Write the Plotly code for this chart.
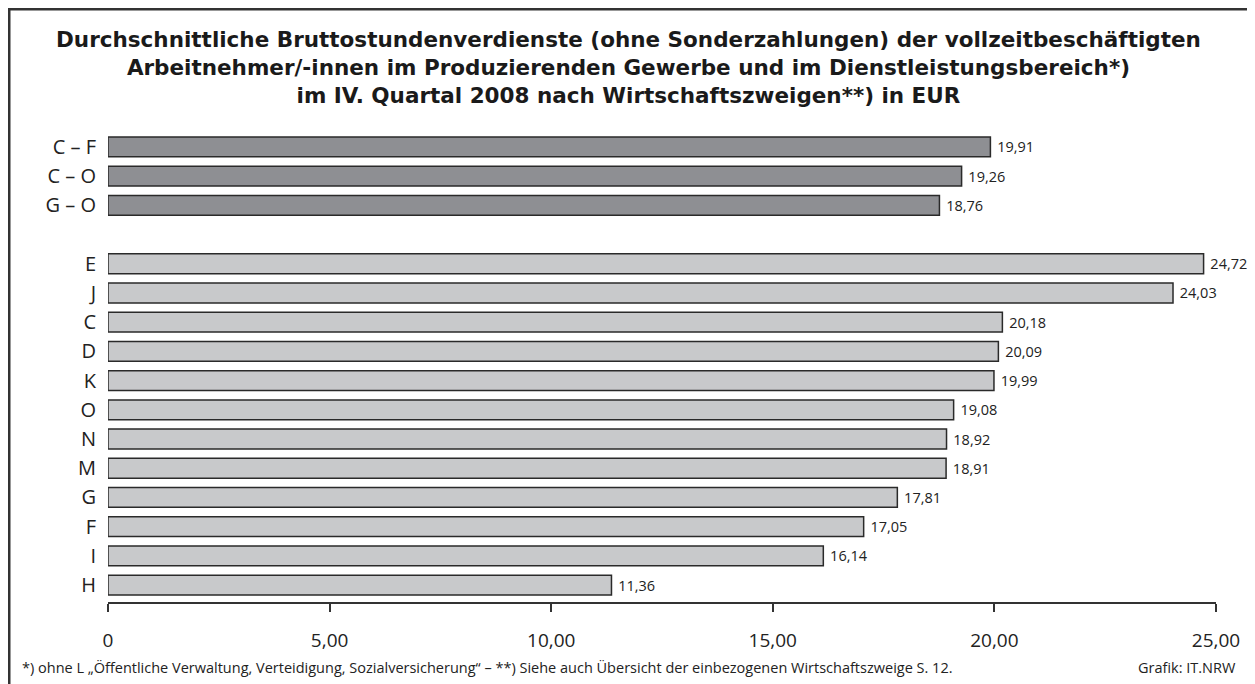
import plotly.graph_objects as go

# Data
total_labels = ["C – F", "C – O", "G – O"]
total_values = [19.91, 19.26, 18.76]
sector_labels = ["E", "J", "C", "D", "K", "O", "N", "M", "G", "F", "I", "H"]
sector_values = [24.72, 24.03, 20.18, 20.09, 19.99, 19.08, 18.92, 18.91, 17.81, 17.05, 16.14, 11.36]
spacer = " "
tick_vals = [0, 5, 10, 15, 20, 25]
tick_text = ["0", "5,00", "10,00", "15,00", "20,00", "25,00"]

title_lines = [
    "Durchschnittliche Bruttostundenverdienste (ohne Sonderzahlungen) der vollzeitbeschäftigten",
    "Arbeitnehmer/-innen im Produzierenden Gewerbe und im Dienstleistungsbereich*)",
    "im IV. Quartal 2008 nach Wirtschaftszweigen**) in EUR",
]
footnote = ("*) ohne L „Öffentliche Verwaltung, Verteidigung, Sozialversicherung“ – "
            "**) Siehe auch Übersicht der einbezogenen Wirtschaftszweige S. 12.")
source = "Grafik: IT.NRW"

FONT = "Open Sans, Noto Sans, sans-serif"
TITLE_FONT = "DejaVu Sans, Open Sans, sans-serif"
OFF = 8  # page body margin offset
W, H = 1255 - OFF, 684 - OFF
ML, MR, MT = 108 - OFF, 39, 130 - OFF
MB = H - (602 - OFF)

cat_order = total_labels + [spacer] + sector_labels
plot_h = H - MT - MB
plot_w = W - ML - MR


def px(x):  # page x -> paper x
    return (x - OFF - ML) / plot_w


def py(y):  # page y -> paper y
    return (H - MB - (y - OFF)) / plot_h


def fmt(v):
    return "\u00a0" + f"{v:.2f}".replace(".", ",")


fig = go.Figure()
fig.add_trace(go.Bar(
    y=total_labels + [spacer], x=total_values + [None], orientation="h",
    marker=dict(color="#8e8f93", line=dict(color="#2a2a2a", width=1.5)),
    width=0.68, text=[fmt(v) for v in total_values] + [""],
    textposition="outside", textfont=dict(size=14.5, color="#222", family=FONT),
    cliponaxis=False, showlegend=False, hoverinfo="x+y",
))
fig.add_trace(go.Bar(
    y=sector_labels, x=sector_values, orientation="h",
    marker=dict(color="#c8c9cb", line=dict(color="#2a2a2a", width=1.5)),
    width=0.68, text=[fmt(v) for v in sector_values],
    textposition="outside", textfont=dict(size=14.5, color="#222", family=FONT),
    cliponaxis=False, showlegend=False, hoverinfo="x+y",
))

annotations = [
    dict(text="<br>".join(title_lines), xref="paper", yref="paper", x=px(628), y=py(67),
         xanchor="center", yanchor="middle", align="center", showarrow=False,
         font=dict(size=21.5, color="#1a1a1a", family=TITLE_FONT, weight="bold")),
    dict(text=footnote, xref="paper", yref="paper",
         x=px(20), y=py(667), xanchor="left", yanchor="middle",
         showarrow=False, font=dict(size=14.5, color="#222", family=FONT)),
    dict(text=source, xref="paper", yref="paper",
         x=px(1238), y=py(667), xanchor="right", yanchor="middle",
         showarrow=False, font=dict(size=14.5, color="#222", family=FONT)),
]

n = len(cat_order)
fig.update_layout(
    width=W, height=H,
    margin=dict(l=ML, r=MR, t=MT, b=MB, autoexpand=False),
    paper_bgcolor="white", plot_bgcolor="white",
    font=dict(family=FONT, color="#222"),
    barmode="overlay",
    xaxis=dict(range=[0, 25], tickvals=tick_vals, ticktext=tick_text,
               showgrid=False, zeroline=False, showline=True, linecolor="#333", linewidth=2,
               ticks="outside", ticklen=8, tickwidth=2, tickcolor="#333",
               ticklabelstandoff=12,
               tickfont=dict(size=19, color="#222", family=FONT), fixedrange=True),
    yaxis=dict(type="category", categoryorder="array", categoryarray=cat_order,
               range=[n - 1 + 0.58, -0.58], showgrid=False, zeroline=False,
               showline=False, ticks="", ticklabelstandoff=11,
               tickfont=dict(size=20, color="#222", family=FONT), fixedrange=True),
    shapes=[
        dict(type="line", xref="paper", yref="paper",
             x0=px(9), x1=px(9), y0=py(690), y1=py(8),
             line=dict(color="#333", width=3)),
        dict(type="line", xref="paper", yref="paper",
             x0=px(8), x1=px(1260), y0=py(9), y1=py(9),
             line=dict(color="#333", width=3)),
    ],
    annotations=annotations,
)

fig.write_html("out.html")
